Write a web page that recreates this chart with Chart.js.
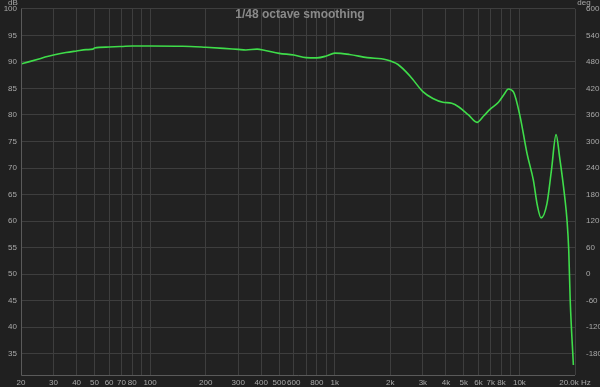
<!DOCTYPE html>
<html>
<head>
<meta charset="utf-8">
<script src="https://cdn.jsdelivr.net/npm/chart.js@4.4.1/dist/chart.umd.min.js"></script>
<style>
  html, body { margin: 0; padding: 0; background: #202020; }
  #wrap { width: 600px; height: 387px; }
</style>
</head>
<body>
<div id="wrap"><canvas id="fr" width="600" height="387"></canvas></div>
<script>
// frequency response
const freqs = [20, 22, 25, 27, 30, 35, 40, 45, 49, 50, 60, 70, 80, 100, 150, 200, 250, 300, 330, 380, 420,
  500, 600, 700, 800, 900, 1000, 1200, 1500, 1900, 2200, 2560, 3000, 3400, 3850, 4300, 4700,
  5300, 5900, 6400, 6950, 7700, 8300, 8700, 9300, 10100, 11000, 11900, 12500, 13100, 14100,
  14900, 15800, 16500, 17600, 18100, 18500, 18840, 19600];
const spl = [89.6, 90.0, 90.55, 90.9, 91.3, 91.75, 92.05, 92.3, 92.4, 92.6, 92.8, 92.9, 93.0, 93.0, 92.95, 92.75, 92.55, 92.35, 92.25, 92.4, 92.15,
  91.6, 91.3, 90.8, 90.75, 91.1, 91.65, 91.4, 90.8, 90.4, 89.5, 87.3, 84.4, 83.1, 82.4, 82.2, 81.5,
  80.0, 78.6, 79.8, 81.1, 82.4, 84.0, 84.9, 84.3, 79.6, 72.7, 67.7, 63.0, 60.6, 63.3,
  69.5, 76.3, 72.1, 64.5, 60.2, 54.5, 45.1, 32.9];

const gridFreqs = [20, 30, 40, 50, 60, 70, 80, 90, 100, 200, 300, 400, 500, 600, 700, 800, 900,
  1000, 2000, 3000, 4000, 5000, 6000, 7000, 8000, 9000, 10000, 20000];
const freqLabels = {20: '20', 30: '30', 40: '40', 50: '50', 60: '60', 70: '70', 80: '80', 100: '100',
  200: '200', 300: '300', 400: '400', 500: '500', 600: '600', 800: '800', 1000: '1k', 2000: '2k',
  3000: '3k', 4000: '4k', 5000: '5k', 6000: '6k', 7000: '7k', 8000: '8k', 10000: '10k', 20000: '20.0k Hz'};
const dbTicks = [35, 40, 45, 50, 55, 60, 65, 70, 75, 80, 85, 90, 95, 100];
const degTicks = [-180, -120, -60, 0, 60, 120, 180, 240, 300, 360, 420, 480, 540, 600];

const tickColor = '#a8a8a8';
const gridColor = '#3e3e3e';
const tickFont = { family: 'Liberation Sans, Arial, sans-serif', size: 8 };

const overlay = {
  id: 'overlay',
  beforeDraw(chart) {
    const { ctx, chartArea: a } = chart;
    ctx.save();
    ctx.fillStyle = '#222222';
    ctx.fillRect(a.left, a.top, a.right - a.left, a.bottom - a.top);
    ctx.restore();
  },
  afterDraw(chart) {
    const { ctx, chartArea: a } = chart;
    ctx.save();
    ctx.strokeStyle = '#5a5a5a';
    ctx.lineWidth = 1;
    ctx.beginPath();
    ctx.moveTo(a.left + 0.5, a.top);
    ctx.lineTo(a.left + 0.5, a.bottom + 0.5);
    ctx.lineTo(a.right, a.bottom + 0.5);
    ctx.stroke();
    ctx.fillStyle = '#8a8a8a';
    ctx.font = 'bold 12px Liberation Sans, Arial, sans-serif';
    ctx.textAlign = 'center';
    ctx.textBaseline = 'middle';
    ctx.fillText('1/48 octave smoothing', 300, 15);
    ctx.fillStyle = tickColor;
    ctx.font = '8px Liberation Sans, Arial, sans-serif';
    ctx.fillText('dB', 13, 3);
    ctx.fillText('deg', 584, 3);
    ctx.restore();
  }
};

new Chart(document.getElementById('fr'), {
  type: 'line',
  data: {
    datasets: [{
      data: freqs.map((f, i) => ({ x: f, y: spl[i] })),
      borderColor: '#3fdc4a',
      borderWidth: 1.6,
      pointRadius: 0,
      fill: false,
      cubicInterpolationMode: 'monotone',
      yAxisID: 'y'
    }]
  },
  options: {
    responsive: false,
    animation: false,
    layout: { padding: { top: 8, left: 0, right: 0, bottom: 0 } },
    plugins: { legend: { display: false }, tooltip: { enabled: false } },
    scales: {
      x: {
        type: 'logarithmic',
        min: 20,
        max: 20000,
        afterBuildTicks: (s) => { s.ticks = gridFreqs.map(v => ({ value: v })); },
        afterFit: (s) => { s.height = 12; },
        grid: { color: gridColor, drawTicks: false },
        border: { display: false },
        ticks: {
          autoSkip: false, maxRotation: 0, padding: 3,
          color: tickColor, font: tickFont,
          callback: (v) => freqLabels[v] || ''
        }
      },
      y: {
        position: 'left',
        min: 31,
        max: 100,
        afterBuildTicks: (s) => { s.ticks = dbTicks.map(v => ({ value: v })); },
        afterFit: (s) => { s.width = 21; },
        grid: { color: gridColor, drawTicks: false },
        border: { display: false },
        ticks: { color: tickColor, font: tickFont, padding: 4 }
      },
      y2: {
        position: 'right',
        min: -228,
        max: 600,
        afterBuildTicks: (s) => { s.ticks = degTicks.map(v => ({ value: v })); },
        afterFit: (s) => { s.width = 25; },
        grid: { display: false },
        border: { display: false },
        ticks: { color: tickColor, font: tickFont, padding: 3 }
      }
    }
  },
  plugins: [overlay]
});
</script>
</body>
</html>
